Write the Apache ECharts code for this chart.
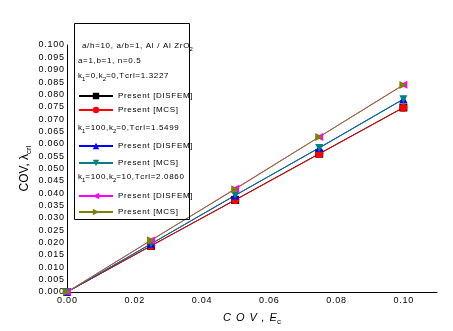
<!DOCTYPE html>
<html>
<head>
<meta charset="utf-8">
<script src="https://cdn.jsdelivr.net/npm/echarts@6/dist/echarts.min.js"></script>
<style>html,body{margin:0;padding:0;background:#fff;}#c{width:453px;height:331px;}</style>
</head>
<body>
<div id="c"></div>
<script>
var xVals = [0, 0.025, 0.05, 0.075, 0.1];
var disfem1 = [0, 0.0187, 0.0373, 0.0560, 0.0747];
var mcs1 = [0, 0.0187, 0.0372, 0.0559, 0.0746];
var disfem2 = [0, 0.0195, 0.0391, 0.0584, 0.0781];
var mcs2 = [0, 0.0195, 0.0392, 0.0583, 0.0780];
var disfem3 = [0, 0.0209, 0.0418, 0.0628, 0.0839];
var mcs3 = [0, 0.0210, 0.0416, 0.0628, 0.0838];
var legendLabels = ['Present [DISFEM]', 'Present [MCS]'];
var groupHeaders = ['k1=0,k2=0,Tcrl=1.3227', 'k1=100,k2=0,Tcrl=1.5499', 'k1=100,k2=10,Tcrl=2.0860'];

function sp(s){ return String(s).split('').join('\u200A'); }
function pairs(ys){ return xVals.map(function(x,i){ return [x, ys[i]]; }); }

var FONT = 'Liberation Sans, Arial, sans-serif';
var chart = echarts.init(document.getElementById('c'), null, {renderer:'canvas'});

function mk(name, color, data, symbol, rot){
  return {
    name: name, type: 'line', data: pairs(data),
    symbol: symbol, symbolSize: 8, symbolRotate: rot || 0,
    lineStyle: {color: color, width: 1}, itemStyle: {color: color},
    color: color, animation: false, z: 3
  };
}
var series = [
  mk('s1', '#000000', disfem1, 'rect'),
  mk('s2', '#ff0000', mcs1, 'circle'),
  mk('s3', '#0000ff', disfem2, 'triangle'),
  mk('s4', '#008080', mcs2, 'triangle', 180),
  mk('s5', '#ff00ff', disfem3, 'triangle', 90),
  mk('s6', '#808000', mcs3, 'triangle', -90)
];
var labelMap = {s1: legendLabels[0], s2: legendLabels[1], s3: legendLabels[0], s4: legendLabels[1], s5: legendLabels[0], s6: legendLabels[1]};

function legend(data, top, gap){
  return {
    data: data, orient: 'vertical', left: 78, top: top, padding: 0,
    itemWidth: 34, itemHeight: 8, itemGap: gap,
    selectedMode: false,
    formatter: function(n){ return sp(labelMap[n]); },
    textStyle: {fontFamily: FONT, fontSize: 8, color: '#000'}
  };
}

function header(txt){
  var m = txt.match(/^k1=([^,]+),k2=([^,]+),(.*)$/);
  return '{n|' + sp('k') + '}{s|1}{n|' + sp('=' + m[1] + ',k') + '}{s|2}{n|' + sp('=' + m[2] + ',' + m[3]) + '}';
}
var richT = {
  n: {fontFamily: FONT, fontSize: 8, color: '#000'},
  s: {fontFamily: FONT, fontSize: 6, color: '#000', padding: [7, 0, 0, 0]}
};

var graphics = [
  {type: 'rect', shape: {x: 74.5, y: 23.5, width: 115, height: 196}, style: {fill: 'none', stroke: '#000', lineWidth: 1}, z: 10},
  {type: 'text', left: 82, top: 42, style: {text: '{n|' + sp('a/h=10, a/b=1, Al / Al ZrO') + '}{s|2}', rich: richT}, z: 11},
  {type: 'text', left: 78, top: 57, style: {text: '{n|' + sp('a=1,b=1, n=0.5') + '}', rich: richT}, z: 11},
  {type: 'text', left: 78, top: 72, style: {text: header(groupHeaders[0]), rich: richT}, z: 11},
  {type: 'text', left: 78, top: 124, style: {text: header(groupHeaders[1]), rich: richT}, z: 11},
  {type: 'text', left: 78, top: 173, style: {text: header(groupHeaders[2]), rich: richT}, z: 11}
];

var option = {
  animation: false,
  backgroundColor: '#fff',
  grid: {left: 67, right: 16, top: 45, bottom: 35},
  legend: [legend(['s1','s2'], 92, 6), legend(['s3','s4'], 142, 9), legend(['s5','s6'], 192, 8)],
  xAxis: {
    type: 'value', min: 0, max: 0.11, interval: 0.02,
    name: '{i|' + sp('C O V , E') + '}{s|c}', nameLocation: 'middle', nameGap: 18,
    nameTextStyle: {rich: {
      i: {fontFamily: FONT, fontSize: 11, fontStyle: 'italic', color: '#000'},
      s: {fontFamily: FONT, fontSize: 8, color: '#000', padding: [8, 0, 0, 0]}
    }},
    axisLine: {lineStyle: {color: '#000', width: 1}},
    axisTick: {show: false},
    splitLine: {show: false},
    axisLabel: {showMaxLabel: false, margin: 4, fontFamily: FONT, fontSize: 9, color: '#000',
      formatter: function(v){ return sp(v.toFixed(2)); }}
  },
  yAxis: {
    type: 'value', min: 0, max: 0.1, interval: 0.005,
    name: '{a|COV, λ}{s|crl}', nameLocation: 'middle', nameGap: 34, nameRotate: 90,
    nameMoveOverlap: false,
    nameTextStyle: {rich: {
      a: {fontFamily: FONT, fontSize: 12, color: '#000'},
      s: {fontFamily: FONT, fontSize: 8, color: '#000', padding: [8, 0, 0, 0]}
    }},
    axisLine: {show: true, lineStyle: {color: '#000', width: 1}},
    axisTick: {show: false},
    splitLine: {show: false},
    axisLabel: {margin: 3, fontFamily: FONT, fontSize: 9, color: '#000',
      formatter: function(v){ return sp(v.toFixed(3)); }}
  },
  series: series,
  graphic: graphics
};
chart.setOption(option);
</script>
</body>
</html>
